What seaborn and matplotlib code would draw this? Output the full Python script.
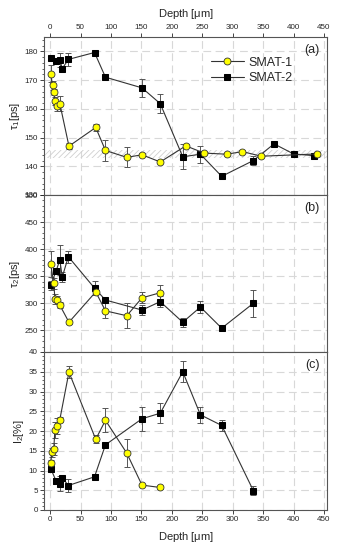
import matplotlib
matplotlib.use('Agg')
import matplotlib.pyplot as plt
from matplotlib.ticker import MultipleLocator
import seaborn as sns
import pandas as pd

#=====DATA=====
# panel (a) tau1
a1_depth = [1, 4, 6, 8, 11, 16, 31, 75, 91, 126, 151, 181, 223, 253, 290, 316, 347, 439]
a1_val = [172.2, 168.2, 165.8, 162.7, 161.0, 161.8, 147.0, 153.5, 145.5, 143.1, 144.0, 141.5, 147.1, 144.6, 144.2, 145.1, 143.5, 144.3]
a1_err = [3.0, 1.5, 1.0, 1.5, 1.8, 2.5, 1.0, 1.2, 3.8, 3.5, 0.5, 0.5, 0.5, 0.5, 0.5, 0.5, 0.5, 0.5]
a2_depth = [1, 10, 16, 20, 30, 73, 91, 151, 181, 218, 247, 282, 334, 368, 400, 433]
a2_val = [177.7, 176.6, 177.1, 174.0, 177.2, 179.6, 171.0, 167.3, 161.8, 143.3, 144.2, 136.5, 142.0, 147.8, 144.3, 143.7]
a2_err = [0.5, 0.5, 2.5, 1.0, 2.2, 0.5, 0.5, 3.2, 3.3, 4.3, 3.0, 0.5, 1.5, 0.5, 0.5, 0.5]

# panel (b) tau2
b1_depth = [1, 6, 8, 11, 16, 31, 75, 91, 126, 151, 181]
b1_val = [372.5, 337.0, 308.0, 306.0, 296.5, 265.0, 321.0, 286.0, 277.0, 310.0, 319.5]
b1_err = [24.0, 10.0, 10.0, 8.0, 6.0, 3.0, 4.0, 14.0, 23.0, 10.0, 15.0]
b2_depth = [1, 10, 16, 20, 30, 73, 91, 151, 181, 218, 247, 282, 334]
b2_val = [333.0, 360.0, 380.0, 348.5, 386.0, 328.0, 306.0, 287.5, 303.0, 265.0, 293.0, 254.0, 300.0]
b2_err = [8.0, 6.0, 28.0, 10.0, 11.0, 13.0, 4.0, 10.0, 10.0, 8.0, 11.0, 2.0, 25.0]

# panel (c) I2
c1_depth = [1, 3, 6, 8, 11, 16, 31, 75, 91, 126, 151, 181]
c1_val = [11.9, 14.6, 15.4, 20.3, 21.2, 22.9, 34.9, 17.9, 22.7, 14.4, 6.3, 5.7]
c1_err = [0.8, 1.2, 1.5, 2.0, 2.0, 0.6, 1.5, 1.0, 3.0, 3.5, 0.3, 0.3]
c2_depth = [1, 10, 16, 20, 30, 73, 91, 151, 181, 218, 247, 282, 334]
c2_val = [10.5, 7.3, 6.7, 8.2, 6.2, 8.4, 16.5, 23.1, 24.5, 35.0, 24.1, 21.4, 4.9]
c2_err = [0.8, 0.8, 1.8, 0.5, 1.6, 0.6, 0.5, 3.0, 2.5, 2.7, 2.0, 1.5, 1.2]

series_names = ["SMAT-1", "SMAT-2"]
panel_labels = ["(a)", "(b)", "(c)"]
y_labels = [r"$\tau_1$[ps]", r"$\tau_2$[ps]", r"I$_2$[%]"]

#=====STYLE=====
sns.set_style("white")
plt.rcParams['font.family'] = ['Liberation Sans', 'DejaVu Sans']
plt.rcParams['mathtext.fontset'] = 'custom'
plt.rcParams['mathtext.rm'] = 'Liberation Sans'
plt.rcParams['mathtext.it'] = 'Liberation Sans'
plt.rcParams['hatch.linewidth'] = 0.6

fig = plt.figure(figsize=(3.38, 5.5), dpi=100)
left, width = 44 / 338, (327 - 44) / 338
bounds = [(37, 195), (195, 352), (352, 510)]
axes = []
for top, bot in bounds:
	ax = fig.add_axes([left, 1 - bot / 550, width, (bot - top) / 550])
	axes.append(ax)

panels = [
	(a1_depth, a1_val, a1_err, a2_depth, a2_val, a2_err, (130, 185), 10, 2),
	(b1_depth, b1_val, b1_err, b2_depth, b2_val, b2_err, (210, 500), 50, 10),
	(c1_depth, c1_val, c1_err, c2_depth, c2_val, c2_err, (0, 40), 5, 1),
]

for i, (ax, p) in enumerate(zip(axes, panels)):
	d1, v1, e1, d2, v2, e2, ylim, major, minor = p
	df1 = pd.DataFrame({"Depth": d1, "val": v1})
	df2 = pd.DataFrame({"Depth": d2, "val": v2})
	ax.errorbar(d2, v2, yerr=e2, fmt='none', ecolor='#555555', elinewidth=0.7, capsize=2.2, capthick=0.7, zorder=2)
	ax.errorbar(d1, v1, yerr=e1, fmt='none', ecolor='#555555', elinewidth=0.7, capsize=2.2, capthick=0.7, zorder=2)
	sns.lineplot(data=df2, x="Depth", y="val", ax=ax, sort=False, color='#333333', lw=0.8,
		marker='s', markersize=4.3, markerfacecolor='black', markeredgecolor='black', label=series_names[1], zorder=3)
	sns.lineplot(data=df1, x="Depth", y="val", ax=ax, sort=False, color='#333333', lw=0.8,
		marker='o', markersize=5.0, markerfacecolor='#ffff00', markeredgecolor='#333333', markeredgewidth=0.6,
		label=series_names[0], zorder=4)
	ax.set_xlim(-10, 455)
	ax.set_ylim(*ylim)
	ax.xaxis.set_major_locator(MultipleLocator(50))
	ax.yaxis.set_major_locator(MultipleLocator(major))
	ax.yaxis.set_minor_locator(MultipleLocator(minor))
	ax.grid(True, which='major', color='#d8d8d8', linestyle=(0, (7, 4)), lw=0.8)
	ax.set_axisbelow(True)
	for s in ax.spines.values():
		s.set_color('#555555')
		s.set_linewidth(0.8)
	ax.tick_params(axis='y', which='major', direction='out', length=3, width=0.6, labelsize=5.8, pad=1.5, left=True)
	ax.tick_params(axis='y', which='minor', direction='out', length=1.8, width=0.5, left=True)
	ax.tick_params(axis='x', which='major', direction='out', length=3, width=0.6, labelsize=5.8, pad=1.5)
	ax.set_ylabel(y_labels[i], fontsize=8, labelpad=2)
	ax.set_xlabel("")
	ax.text(0.975, 0.955, panel_labels[i], transform=ax.transAxes, ha='right', va='top', fontsize=9)
	if ax.get_legend() is not None:
		ax.get_legend().remove()

# hatched band in panel (a)
axes[0].axhspan(143, 145.5, facecolor='none', hatch='//////', edgecolor='#cfcfcf', lw=0, zorder=1)

# top axis on panel (a), bottom on panel (c)
axes[0].tick_params(axis='x', top=True, labeltop=True, bottom=False, labelbottom=False)
axes[0].xaxis.set_label_position('top')
axes[0].set_xlabel(r"Depth [$\mu$m]", fontsize=8, labelpad=5)
axes[1].tick_params(axis='x', bottom=False, labelbottom=False)
axes[2].tick_params(axis='x', bottom=True, labelbottom=True)
axes[2].set_xlabel(r"Depth [$\mu$m]", fontsize=8, labelpad=5)

# legend
h, l = axes[0].get_legend_handles_labels()
order = [l.index(n) for n in series_names]
axes[0].legend([h[k] for k in order], [l[k] for k in order], loc='upper left', bbox_to_anchor=(0.56, 0.93),
	frameon=False, fontsize=9, handlelength=2.6, handletextpad=0.4, labelspacing=0.25, borderpad=0.2)

fig.savefig("out.png", dpi=100)
